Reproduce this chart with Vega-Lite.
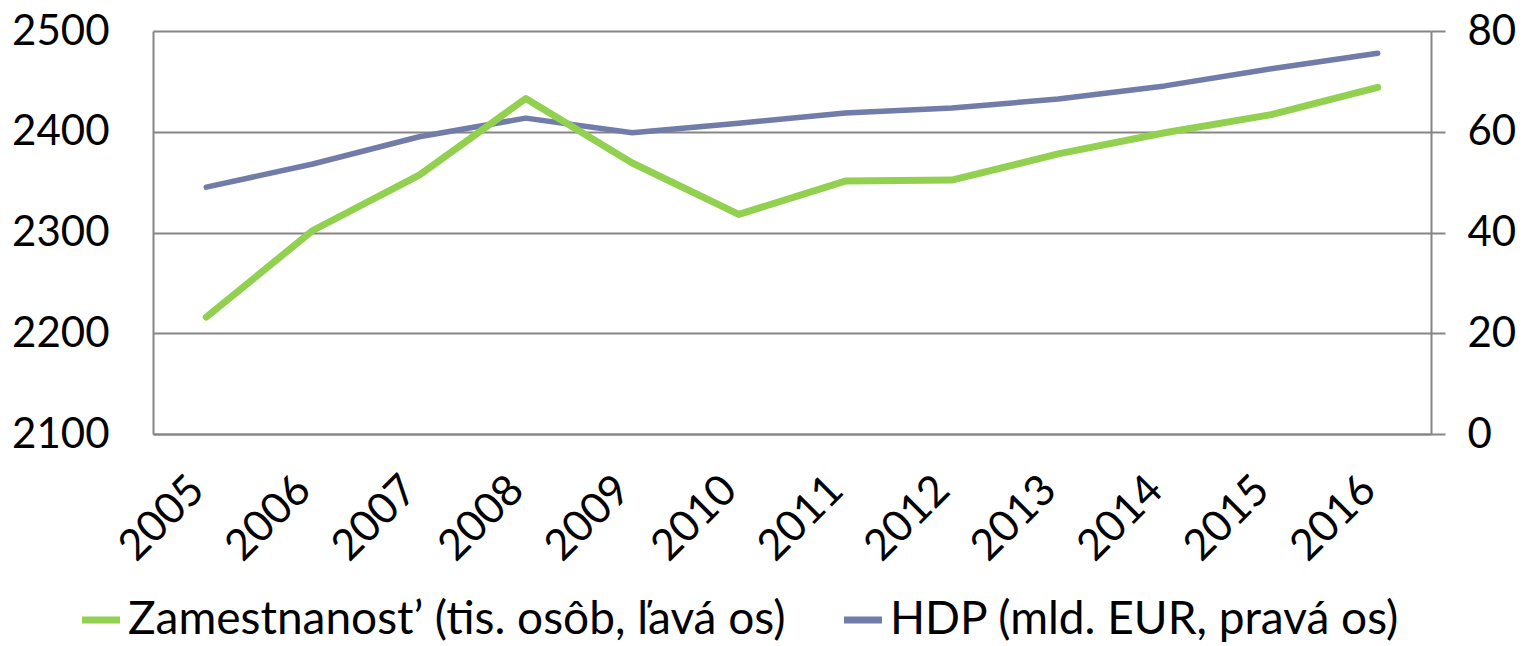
{
  "$schema": "https://vega.github.io/schema/vega-lite/v6.json",
  "autosize": "none",
  "width": 1278,
  "height": 403,
  "padding": {"left": 153, "top": 31, "right": 99, "bottom": 212},
  "background": "white",
  "config": {
    "font": "Lato",
    "view": {"stroke": null},
    "axis": {"labelFont": "Lato", "labelColor": "#000000", "domainColor": "#868686", "gridColor": "#868686", "tickColor": "#868686"}
  },
  "data": {
    "values": [
      {"year": "2005", "zam": 2216, "hdp": 49.0},
      {"year": "2006", "zam": 2302, "hdp": 53.6},
      {"year": "2007", "zam": 2357, "hdp": 59.0},
      {"year": "2008", "zam": 2433, "hdp": 62.7},
      {"year": "2009", "zam": 2369, "hdp": 59.8},
      {"year": "2010", "zam": 2318, "hdp": 61.7},
      {"year": "2011", "zam": 2351, "hdp": 63.7},
      {"year": "2012", "zam": 2352, "hdp": 64.7},
      {"year": "2013", "zam": 2378, "hdp": 66.5},
      {"year": "2014", "zam": 2399, "hdp": 69.1},
      {"year": "2015", "zam": 2417, "hdp": 72.5},
      {"year": "2016", "zam": 2444, "hdp": 75.6}
    ]
  },
  "encoding": {
    "x": {
      "field": "year", "type": "ordinal",
      "scale": {"padding": 0.5},
      "axis": {"title": null, "labelAngle": -45, "labelAlign": "right", "labelBaseline": "alphabetic", "labelFontSize": 43, "labelPadding": 58, "ticks": false, "domain": true, "domainWidth": 2, "grid": false}
    }
  },
  "layer": [
    {
      "mark": {"type": "line", "strokeWidth": 5.5, "strokeCap": "round", "strokeJoin": "round"},
      "encoding": {
        "y": {
          "field": "hdp", "type": "quantitative",
          "scale": {"domain": [0, 80], "nice": false, "zero": true},
          "axis": {"orient": "right", "title": null, "values": [0, 20, 40, 60, 80], "format": "d", "labelFontSize": 42, "tickSize": 14, "tickWidth": 2, "domainWidth": 2, "labelPadding": 22, "grid": false}
        },
        "color": {"datum": "HDP (mld. EUR, pravá os)"}
      }
    },
    {
      "mark": {"type": "line", "strokeWidth": 7, "strokeCap": "round", "strokeJoin": "round"},
      "encoding": {
        "y": {
          "field": "zam", "type": "quantitative",
          "scale": {"domain": [2100, 2500], "nice": false, "zero": false},
          "axis": {"orient": "left", "title": null, "values": [2100, 2200, 2300, 2400, 2500], "format": "d", "labelFontSize": 42, "ticks": false, "domainWidth": 2, "gridWidth": 2, "labelPadding": 44, "grid": true}
        },
        "color": {
          "datum": "Zamestnanost’ (tis. osôb, ľavá os)",
          "scale": {
            "domain": ["Zamestnanost’ (tis. osôb, ľavá os)", "HDP (mld. EUR, pravá os)"],
            "range": ["#92D050", "#717CA8"]
          },
          "legend": {
            "title": null, "orient": "none", "direction": "horizontal",
            "legendX": -75, "legendY": 566,
            "symbolType": "stroke", "symbolSize": 1444, "symbolStrokeWidth": 7,
            "labelFontSize": 46, "labelFont": "Lato", "labelColor": "#000000",
            "labelOffset": 4, "columnPadding": 44, "labelLimit": 900
          }
        }
      }
    }
  ],
  "resolve": {"scale": {"y": "independent"}}
}
